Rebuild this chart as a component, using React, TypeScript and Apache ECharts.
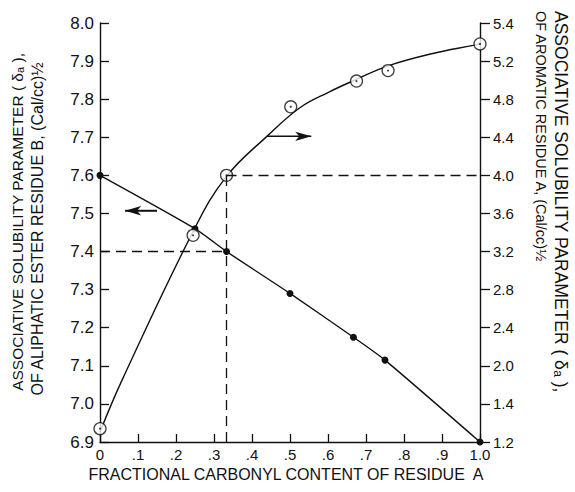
import React, { useEffect, useRef } from "react";
import * as echarts from "echarts";

// Aliphatic ester residue B (left axis, filled dots)
const leftX = [0, 0.25, 0.333, 0.5, 0.667, 0.75, 1.0];
const leftY = [7.6, 7.46, 7.4, 7.29, 7.175, 7.115, 6.9];

// Aromatic residue A (right axis, open circles)
const circX = [0, 0.245, 0.333, 0.502, 0.675, 0.758, 1.0];
const circY = [1.34, 3.37, 4.0, 4.72, 4.99, 5.1, 5.38];

// Hand-fitted curve through the aromatic residue points
const curveX = [0, 0.058, 0.25, 0.333, 0.442, 0.526, 0.6, 0.676, 0.758, 0.876, 0.982, 1.0];
const curveY = [1.305, 1.85, 3.45, 3.99, 4.42, 4.71, 4.87, 5.01, 5.15, 5.28, 5.365, 5.38];

// Tick labels
const xTickLabels = ["0", ".1", ".2", ".3", ".4", ".5", ".6", ".7", ".8", ".9", "1.0"];
const rightTickLabels = ["1.2", "1.4", "2.0", "2.4", "2.8", "3.2", "3.6", "4.0", "4.4", "4.8", "5.2", "5.4"];

// Arrow shafts: [tail, head]
const leftArrowX = [0.15, 0.066];
const leftArrowY = 7.507;
const rightArrowX = [0.44, 0.556];
const rightArrowY = 4.41;

const FONT = "Liberation Sans, Arial, sans-serif";
const INK = "#111";

export default function App() {
  const ref = useRef<HTMLDivElement>(null);

  useEffect(() => {
    if (!ref.current) return;
    const chart = echarts.init(ref.current, undefined, { renderer: "svg" });

    const refX = circX[2];
    const refLeft = leftY[2];
    const refRight = circY[2];
    const dash = { color: INK, width: 1.3, type: [10, 6] as any };

    const option: any = {
      animation: false,
      backgroundColor: "#fff",
      grid: { left: 100, right: 95, top: 23, bottom: 50, containLabel: false },
      xAxis: {
        type: "value",
        min: 0,
        max: 1,
        interval: 0.1,
        axisLine: { lineStyle: { color: INK, width: 1.4 } },
        axisTick: { inside: true, length: 8, lineStyle: { color: INK, width: 1.3 } },
        axisLabel: {
          margin: 5,
          color: INK,
          fontFamily: FONT,
          fontSize: 15,
          formatter: (_v: number, i: number) => xTickLabels[i] ?? "",
        },
        splitLine: { show: false },
      },
      yAxis: [
        {
          type: "value",
          position: "left",
          min: 6.9,
          max: 8.0,
          interval: 0.1,
          axisLine: { show: true, lineStyle: { color: INK, width: 1.4 } },
          axisTick: { show: true, inside: true, length: 9, lineStyle: { color: INK, width: 1.3 } },
          axisLabel: {
            margin: 6,
            color: INK,
            fontFamily: FONT,
            fontSize: 17,
            formatter: (v: number) => v.toFixed(1),
          },
          splitLine: { show: false },
        },
        {
          type: "value",
          position: "right",
          min: 1.2,
          max: 5.6,
          interval: 0.4,
          axisLine: { show: true, lineStyle: { color: INK, width: 1.4 } },
          axisTick: { show: true, inside: false, length: 10, lineStyle: { color: INK, width: 1.3 } },
          axisLabel: {
            margin: 13,
            color: INK,
            fontFamily: FONT,
            fontSize: 15,
            formatter: (_v: number, i: number) => rightTickLabels[i] ?? "",
          },
          splitLine: { show: false },
        },
      ],
      series: [
        {
          type: "line",
          yAxisIndex: 1,
          data: curveX.map((x, i) => [x, curveY[i]]),
          smooth: 0.4,
          showSymbol: false,
          symbol: "none",
          lineStyle: { color: INK, width: 1.4 },
          z: 2,
          markLine: {
            silent: true,
            symbol: ["none", "none"],
            label: { show: false },
            lineStyle: dash,
            data: [[{ coord: [refX, refRight] }, { coord: [1.0, refRight] }]],
          },
        },
        {
          type: "line",
          yAxisIndex: 0,
          data: leftX.map((x, i) => [x, leftY[i]]),
          smooth: 0.2,
          symbol: "circle",
          symbolSize: 7,
          itemStyle: { color: INK },
          lineStyle: { color: INK, width: 1.4 },
          z: 3,
          markLine: {
            silent: true,
            symbol: ["none", "none"],
            label: { show: false },
            lineStyle: dash,
            data: [
              [{ coord: [0, refLeft] }, { coord: [refX, refLeft] }],
              [{ coord: [refX, 6.9] }, { coord: [refX, 7.6] }],
            ],
          },
        },
        {
          type: "scatter",
          yAxisIndex: 1,
          data: circX.map((x, i) => [x, circY[i]]),
          symbol: "circle",
          symbolSize: 12,
          itemStyle: { color: "#fff", borderColor: INK, borderWidth: 1.3 },
          z: 4,
        },
        {
          type: "scatter",
          yAxisIndex: 1,
          data: circX.map((x, i) => [x, circY[i]]),
          symbol: "circle",
          symbolSize: 2.2,
          itemStyle: { color: INK },
          z: 5,
        },
        {
          type: "line",
          yAxisIndex: 0,
          data: [
            { value: [leftArrowX[0], leftArrowY], symbol: "none" },
            { value: [leftArrowX[1], leftArrowY], symbol: "arrow", symbolSize: [7, 16], symbolRotate: 90 },
          ],
          lineStyle: { color: INK, width: 2 },
          itemStyle: { color: INK },
          z: 3,
        },
        {
          type: "line",
          yAxisIndex: 1,
          data: [
            { value: [rightArrowX[0], rightArrowY], symbol: "none" },
            { value: [rightArrowX[1], rightArrowY], symbol: "arrow", symbolSize: [7, 16], symbolRotate: -90 },
          ],
          lineStyle: { color: INK, width: 1.6 },
          itemStyle: { color: INK },
          z: 3,
        },
      ],
      graphic: [
        // left axis title (reads bottom to top)
        {
          type: "text",
          x: 17,
          y: 222,
          rotation: Math.PI / 2,
          style: {
            text: "ASSOCIATIVE SOLUBILITY PARAMETER ( δ{sub|a} ),",
            font: `15.5px ${FONT}`,
            fill: INK,
            align: "center",
            verticalAlign: "middle",
            rich: { sub: { fontSize: 11, fontFamily: FONT, verticalAlign: "bottom", padding: [6, 0, 0, 0] } },
          },
        },
        {
          type: "text",
          x: 37,
          y: 229,
          rotation: Math.PI / 2,
          style: {
            text: "OF ALIPHATIC ESTER RESIDUE B, (Cal/cc)½",
            font: `16px ${FONT}`,
            fill: INK,
            align: "center",
            verticalAlign: "middle",
          },
        },
        // right axis title (reads top to bottom)
        {
          type: "text",
          x: 561,
          y: 11,
          rotation: -Math.PI / 2,
          style: {
            text: "ASSOCIATIVE SOLUBILITY PARAMETER ( δ{sub|a} ),",
            font: `17.5px ${FONT}`,
            fill: INK,
            align: "left",
            verticalAlign: "middle",
            rich: { sub: { fontSize: 12, fontFamily: FONT, verticalAlign: "bottom", padding: [6, 0, 0, 0] } },
          },
        },
        {
          type: "text",
          x: 541,
          y: 11,
          rotation: -Math.PI / 2,
          style: {
            text: "OF AROMATIC RESIDUE A, (Cal/cc)½",
            font: `14.5px ${FONT}`,
            fill: INK,
            align: "left",
            verticalAlign: "middle",
          },
        },
        // x axis title
        {
          type: "text",
          x: 286,
          y: 474,
          style: {
            text: "FRACTIONAL CARBONYL CONTENT OF RESIDUE  A",
            font: `16px ${FONT}`,
            fill: INK,
            align: "center",
            verticalAlign: "middle",
          },
        },
      ],
    };

    chart.setOption(option);
    return () => chart.dispose();
  }, []);

  return (
    <div
      ref={ref}
      style={{ position: "absolute", left: 0, top: 0, width: 575, height: 492 }}
    />
  );
}
